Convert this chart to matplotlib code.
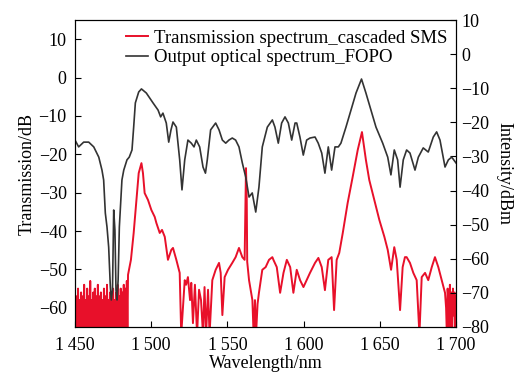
import numpy as np
import matplotlib
matplotlib.use('Agg')
import matplotlib.pyplot as plt
from matplotlib import rcParams
rcParams['font.family'] = 'serif'
rcParams['font.serif'] = ['Liberation Serif', 'DejaVu Serif']
rcParams['font.size'] = 13

# Output optical spectrum_FOPO (right axis, dBm)
wl_fopo = [1450.0, 1452.4, 1455.7, 1459.0, 1462.3, 1465.6, 1467.7, 1468.8, 1469.9, 1471.0,
           1472.1, 1473.2, 1473.8, 1474.6, 1475.4, 1476.2, 1476.9, 1477.6, 1478.3, 1479.1,
           1480.8, 1482.0, 1484.1, 1485.6, 1487.4, 1488.5, 1489.6, 1491.8, 1493.6, 1496.8,
           1501.2, 1504.5, 1506.2, 1507.7, 1509.9, 1511.5, 1513.0, 1514.3, 1516.5, 1518.7,
           1520.2, 1522.0, 1524.1, 1526.3, 1528.1, 1529.6, 1531.8, 1534.0, 1535.6, 1536.8,
           1539.0, 1542.3, 1544.5, 1546.7, 1548.9, 1551.0, 1553.2, 1555.4, 1557.6, 1559.8,
           1562.0, 1564.2, 1566.3, 1568.6, 1570.7, 1572.9, 1576.2, 1579.5, 1581.2, 1583.4,
           1585.6, 1587.8, 1590.0, 1592.2, 1594.4, 1595.5, 1597.6, 1599.8, 1602.0, 1604.2,
           1607.5, 1609.6, 1611.9, 1614.0, 1616.2, 1618.4, 1620.6, 1622.8, 1624.5, 1627.8,
           1631.1, 1634.4, 1638.0, 1640.9, 1644.2, 1647.5, 1651.9, 1655.2, 1657.3, 1659.5,
           1661.7, 1663.3, 1665.4, 1667.6, 1669.8, 1673.1, 1675.3, 1678.5, 1681.8, 1685.1,
           1687.3, 1689.5, 1692.8, 1695.0, 1697.2, 1700.0]
int_fopo = [-25.2, -27.2, -25.8, -25.8, -27.2, -30.2, -34.0, -36.9, -46.6, -50.7,
            -56.6, -68.3, -72.1, -69.2, -45.7, -51.6, -69.2, -72.1, -66.2, -50.7,
            -36.9, -34.0, -31.0, -30.2, -28.1, -21.4, -14.3, -11.1, -10.2, -11.4,
            -14.3, -16.4, -18.4, -17.3, -20.2, -25.8, -22.2, -19.9, -21.4, -31.0,
            -39.8, -31.0, -25.2, -26.1, -27.2, -25.2, -27.2, -33.1, -34.9, -31.0,
            -22.2, -20.2, -22.2, -25.2, -26.1, -25.2, -24.6, -25.2, -27.2, -31.9,
            -36.0, -41.9, -40.7, -46.3, -39.0, -27.2, -21.4, -19.3, -21.4, -26.1,
            -20.2, -18.4, -20.2, -25.2, -20.2, -20.2, -24.3, -29.6, -25.2, -24.6,
            -24.3, -26.1, -29.0, -34.9, -27.2, -34.0, -27.2, -27.2, -26.1, -21.4,
            -16.4, -11.4, -7.3, -11.4, -16.4, -21.4, -26.1, -30.2, -35.4, -28.1,
            -31.0, -39.0, -31.0, -28.1, -29.0, -34.0, -30.2, -27.5, -28.7, -24.3,
            -22.8, -25.2, -33.1, -31.0, -30.2, -31.9]

# Transmission spectrum_cascaded SMS (left axis, dB)
wl_sms = [1450.0, 1450.5, 1451.0, 1451.5, 1452.0, 1452.5, 1453.0, 1453.5, 1454.0, 1454.5,
          1455.0, 1455.5, 1456.0, 1456.5, 1457.0, 1457.5, 1458.0, 1458.5, 1459.0, 1459.5,
          1460.0, 1460.5, 1461.0, 1461.5, 1462.0, 1462.5, 1463.0, 1463.5, 1464.0, 1464.5,
          1465.0, 1465.5, 1466.0, 1466.5, 1467.0, 1467.5, 1468.0, 1468.5, 1469.0, 1469.5,
          1470.0, 1470.5, 1471.0, 1471.5, 1472.0, 1472.5, 1473.0, 1473.5, 1474.0, 1474.5,
          1475.0, 1475.5, 1476.0, 1476.5, 1477.0, 1477.5, 1478.0, 1478.5, 1479.0, 1479.5,
          1480.0, 1480.5, 1481.0, 1481.5, 1482.0, 1482.5, 1483.0, 1483.5, 1484.0, 1484.4,
          1484.8, 1486.7, 1488.5, 1490.7, 1491.8, 1493.6, 1494.6, 1495.7, 1497.9, 1500.1,
          1502.3, 1503.4, 1505.6, 1507.1, 1508.9, 1511.0, 1513.2, 1514.3, 1516.5, 1518.7,
          1519.7, 1522.0, 1522.9, 1524.1, 1525.5, 1526.3, 1527.4, 1528.7, 1530.1, 1531.4,
          1532.7, 1534.0, 1535.0, 1536.0, 1537.3, 1538.3, 1540.1, 1542.3, 1544.5, 1545.6,
          1546.7, 1548.2, 1550.4, 1553.2, 1555.4, 1557.6, 1559.8, 1561.3, 1561.9, 1562.2,
          1562.7, 1563.0, 1564.2, 1566.4, 1567.2, 1568.1, 1568.8, 1569.8, 1570.7, 1572.9,
          1575.1, 1577.3, 1579.5, 1580.2, 1582.4, 1584.6, 1586.8, 1589.0, 1591.2, 1593.3,
          1595.5, 1597.7, 1599.9, 1602.0, 1604.2, 1607.5, 1609.7, 1611.9, 1614.0, 1616.2,
          1618.4, 1620.0, 1621.7, 1623.4, 1625.7, 1628.9, 1632.2, 1635.5, 1638.3, 1640.9,
          1643.1, 1646.4, 1649.7, 1653.0, 1655.2, 1657.4, 1659.5, 1661.1, 1663.3, 1665.0,
          1666.5, 1667.6, 1669.8, 1672.0, 1674.2, 1676.0, 1677.5, 1679.7, 1681.8, 1684.1,
          1686.2, 1688.4, 1690.6, 1692.8, 1693.5, 1694.0, 1694.5, 1695.0, 1695.5, 1696.0,
          1696.5, 1697.0, 1697.5, 1698.0, 1698.5, 1699.0, 1699.5, 1700.0]
tr_sms = [-56, -67, -57, -67, -55, -67, -58, -67, -56, -67,
          -57, -67, -54, -67, -58, -67, -55, -67, -57, -67,
          -53, -67, -58, -67, -56, -67, -55, -67, -57, -67,
          -54, -67, -57, -67, -56, -67, -58, -67, -55, -67,
          -57, -67, -54, -67, -58, -67, -56, -67, -57, -67,
          -55, -67, -58, -67, -56, -67, -54, -67, -57, -67,
          -55, -67, -56, -67, -54, -67, -55, -67, -53, -67,
          -51.4, -47.5, -40.5, -30.1, -24.9, -22.3, -24.9, -30.1, -31.9, -34.5,
          -36.3, -37.9, -40.5, -39.7, -41.5, -47.5, -44.9, -44.4, -47.5, -50.9,
          -67, -52.8, -54.0, -52.0, -58.0, -53.5, -64.0, -54.0, -67, -55.3,
          -58.0, -67, -54.6, -67, -55.3, -67, -52.8, -50.1, -48.3, -50.9,
          -61.9, -52.0, -50.1, -48.3, -46.8, -44.4, -46.8, -47.5, -31.9, -23.6,
          -31.9, -48.0, -52.8, -58.0, -67, -58.0, -67, -59.0, -56.1, -50.1,
          -49.4, -47.5, -46.8, -47.5, -49.4, -56.1, -50.9, -47.5, -49.4, -56.1,
          -50.1, -52.8, -54.6, -52.8, -50.9, -48.3, -47.0, -49.4, -55.4, -47.5,
          -46.8, -60.6, -47.5, -45.7, -40.5, -32.7, -25.9, -18.9, -14.2, -21.5,
          -26.7, -31.9, -37.1, -41.5, -44.9, -50.1, -44.2, -47.5, -60.6, -49.4,
          -46.8, -46.8, -48.3, -50.9, -52.8, -67, -52.0, -50.9, -52.8, -49.4,
          -46.8, -49.4, -52.8, -56.1, -60, -67, -55, -58, -67, -54,
          -65, -56, -67, -55, -62, -56, -67, -57]

xticks = [1450, 1500, 1550, 1600, 1650, 1700]
xtick_labels = ['1\u2009450', '1\u2009500', '1\u2009550', '1\u2009600', '1\u2009650', '1\u2009700']

fig = plt.figure(figsize=(5.19, 3.78), dpi=100)
ax = fig.add_axes([0.1445, 0.135, 0.7341, 0.812])
ax2 = ax.twinx()

l1, = ax.plot(wl_sms, tr_sms, color='#e8102a', lw=1.4, label='Transmission spectrum_cascaded SMS')
l2, = ax2.plot(wl_fopo, int_fopo, color='#333333', lw=1.2, label='Output optical spectrum_FOPO')

ax.set_xlim(1450, 1700)
ax.set_ylim(-65, 15)
ax2.set_ylim(-80, 10)
ax.set_xticks(xticks)
ax.set_xticklabels(xtick_labels)
ax.set_yticks(np.arange(-60, 11, 10))
ax2.set_yticks(np.arange(-80, 11, 10))

ax.tick_params(direction='in', length=4, width=0.8, pad=6)
ax2.tick_params(direction='in', length=4, width=0.8, pad=4)
ax.tick_params(axis='x', pad=7)

ax.set_xlabel('Wavelength/nm', labelpad=1)
ax.set_ylabel('Transmission/dB', labelpad=2)
ax2.set_ylabel('Intensity/dBm', rotation=270, labelpad=16)

ax2.legend(handles=[l1, l2], loc='upper left', bbox_to_anchor=(0.128, 0.974),
           frameon=False, fontsize=13.5, handlelength=1.2, handletextpad=0.3,
           labelspacing=0.12, borderpad=0.1, borderaxespad=0)

fig.savefig('out.png', dpi=100)
